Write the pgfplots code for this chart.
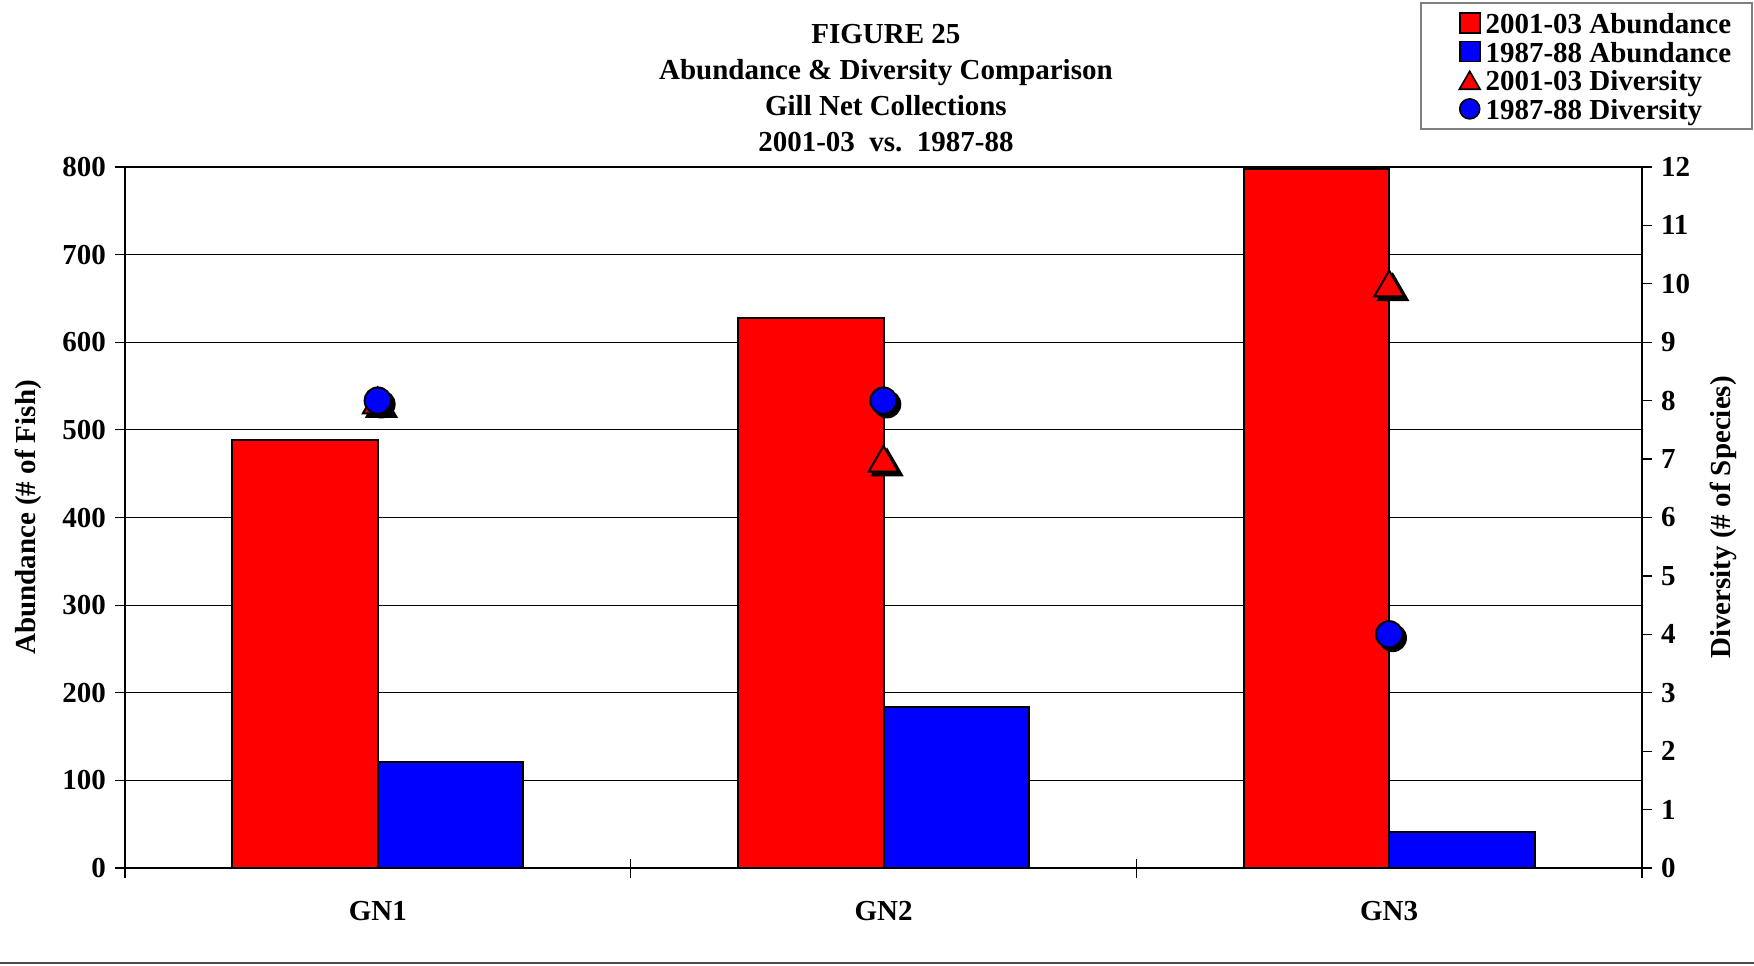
\documentclass[border=0pt]{standalone}
\usepackage{fontspec}
\setmainfont{Liberation Serif}
\usepackage{pgfplots}
\pgfplotsset{compat=1.18}

\definecolor{xlred}{RGB}{255,0,0}
\definecolor{xlblue}{RGB}{0,0,255}
\definecolor{gridgray}{RGB}{128,128,128}

\newcommand{\chartfont}{\fontsize{14.5}{18}\selectfont\bfseries}

\pgfplotsset{
  base/.style={
    width=758.5pt, height=350.5pt, scale only axis,
    at={(62.5pt,48.5pt)}, anchor=south west,
    xmin=-0.5, xmax=2.5,
    /pgf/number format/assume math mode=true,
    tick align=outside, major tick length=5pt,
    tick style={black, line width=0.6pt},
    axis line style={black, line width=0.6pt},
    ticklabel style={font=\chartfont},
    label style={font=\chartfont},
  },
}

\begin{document}
\begin{tikzpicture}
\path[use as bounding box] (0pt,0pt) rectangle (877pt,482.5pt);

% abundance bars, left axis
\begin{axis}[base,
  ymin=0, ymax=800, ytick distance=100, ytick pos=left,
  yticklabel style={xshift=-1pt},
  xtick={0,1,2}, xticklabels={GN1,GN2,GN3}, xtick pos=bottom,
  major x tick style={draw=none},
  minor xtick={-0.5,0.5,1.5,2.5}, minor tick length=9.5pt,
  minor x tick style={yshift=4.75pt},
  xticklabel style={anchor=center, yshift=-16.5pt},
  ymajorgrids, grid style={black, line width=0.5pt},
  ylabel={Abundance (\# of Fish)},
  ylabel style={at={(axis description cs:-0.0639,0.5)}, anchor=center},
  title={FIGURE 25\\Abundance \& Diversity Comparison\\Gill Net Collections\\2001-03~~vs.~~1987-88},
  title style={at={(axis description cs:0.5016,1.0956)}, anchor=center,
    align=center, font=\chartfont},
  ybar, bar width=0.2876,
]
\addplot[fill=xlred, draw=black, line width=1pt, bar shift=-0.1438]
  coordinates {(0,489) (1,628) (2,798)};
\addplot[fill=xlblue, draw=black, line width=1pt, bar shift=0.1438]
  coordinates {(0,121) (1,184) (2,41)};
\end{axis}

% diversity markers, right axis
\begin{axis}[base,
  ymin=0, ymax=12, ytick distance=1,
  axis y line*=right, axis x line=none,
  yticklabel style={xshift=1pt},
  ylabel={Diversity (\# of Species)},
  ylabel style={at={(axis description cs:1.0534,0.5)}, anchor=center},
  legend cell align=left,
  legend style={at={(axis description cs:1.0732,1.2354)}, anchor=north east,
    draw=gridgray, line width=0.8pt, fill=white,
    inner xsep=10pt, inner ysep=3pt, row sep=0pt,
    font=\chartfont,
    nodes={inner sep=0.5pt, text height=12pt, text depth=1.3pt}},
]
\addlegendimage{legend image code/.code={
  \path (-9pt,0pt) (12pt,0pt);
  \draw[fill=xlred, line width=0.8pt] (0pt,-5pt) rectangle (10pt,5pt);}}
\addlegendimage{legend image code/.code={
  \path (-9pt,0pt) (12pt,0pt);
  \draw[fill=xlblue, line width=0.8pt] (0pt,-5pt) rectangle (10pt,5pt);}}
\addlegendimage{legend image code/.code={
  \path (-9pt,0pt) (12pt,0pt);
  \draw[fill=xlred, line width=0.8pt, mark=triangle*, mark size=6pt]
    plot coordinates {(5pt,-1.5pt)};}}
\addlegendimage{legend image code/.code={
  \path (-9pt,0pt) (12pt,0pt);
  \draw[fill=xlblue, line width=0.8pt, mark=*, mark size=5pt]
    plot coordinates {(5pt,0pt)};}}

\addplot[forget plot, only marks, mark=triangle*, mark size=8.6pt,
  draw=black, fill=black, line width=1pt, xshift=1.8pt, yshift=-3.8pt]
  coordinates {(0,8) (1,7) (2,10)};
\addplot[forget plot, only marks, mark=triangle*, mark size=8.6pt,
  draw=black, fill=xlred, line width=1pt, yshift=-2pt]
  coordinates {(0,8) (1,7) (2,10)};
\addplot[forget plot, only marks, mark=*, mark size=6.6pt,
  draw=black, fill=black, line width=1pt, xshift=1.8pt, yshift=-1.8pt]
  coordinates {(0,8) (1,8) (2,4)};
\addplot[forget plot, only marks, mark=*, mark size=6.6pt,
  draw=black, fill=xlblue, line width=1pt]
  coordinates {(0,8) (1,8) (2,4)};
\legend{2001-03 Abundance, 1987-88 Abundance, 2001-03 Diversity, 1987-88 Diversity}
\end{axis}

\draw[black!70, line width=1pt] (0pt,1pt) -- (877pt,1pt);
\end{tikzpicture}
\end{document}
